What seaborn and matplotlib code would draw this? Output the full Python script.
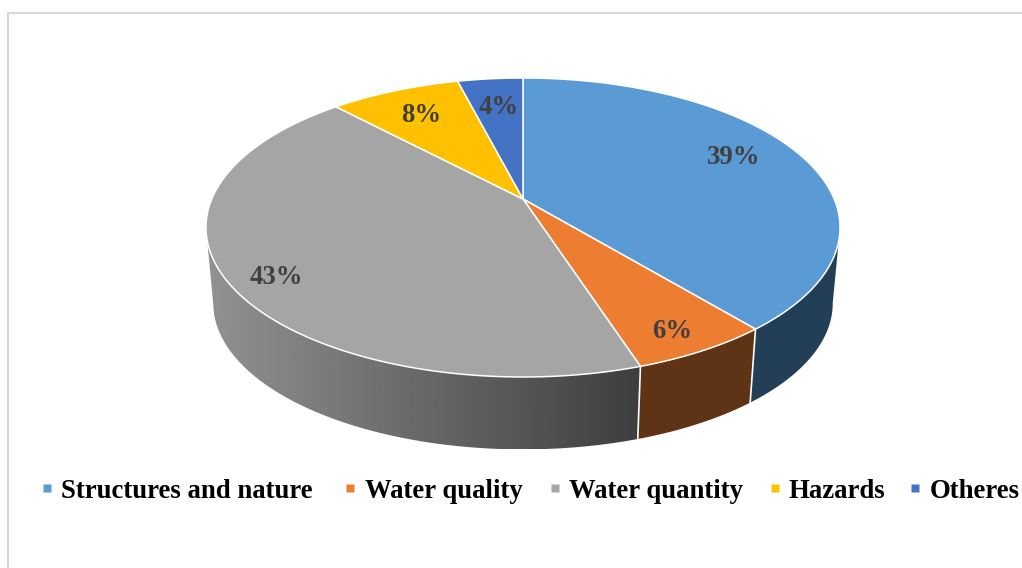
import numpy as np
import matplotlib
matplotlib.use("Agg")
import matplotlib.pyplot as plt
from matplotlib.lines import Line2D
from matplotlib.patches import PathPatch
from matplotlib.path import Path
from matplotlib.transforms import Affine2D, Transform
import seaborn as sns

# Survey shares by topic
categories = ["Structures and nature", "Water quality", "Water quantity", "Hazards", "Otheres"]
shares = [39, 6, 43, 8, 4]
share_labels = ["39%", "6%", "43%", "8%", "4%"]
top_colors = ["#5B9BD5", "#ED7D31", "#A5A5A5", "#FFC000", "#4472C4"]
wall_colors = ["#233F57", "#5F3315", "#808080", "#997300", "#264478"]

sns.set_theme(style="white")
plt.rcParams["font.family"] = ["Liberation Serif", "DejaVu Serif"]

# Geometry of the tilted disc, in figure pixels
CX, CY = 523.0, 199.0
RX, RY, TILT = 311.2, 144.07, 0.1906
DEPTH, SHRINK = 76.5, 0.977
VISIBLE_FROM, VISIBLE_TO = 101.0, 259.0
LABEL_XY = [(734, 157), (672, 332), (276, 278), (421, 115), (499, 107)]
LEGEND_COLUMN_PAD_PX = [7, 1, 2, 0, 0]


class TiltedDisc(Transform):
    """Perspective view of the unit circle, mapped to pixel coordinates."""
    input_dims = 2
    output_dims = 2
    is_separable = False
    has_inverse = False

    def transform_non_affine(self, values):
        values = np.asarray(values, dtype=float)
        x, y = values[:, 0], values[:, 1]
        w = 1 + TILT * y
        return np.column_stack([CX + RX * x / w, CY - RY * y / w])

    def transform_path_non_affine(self, path):
        scale = 3000.0
        polys = path.to_polygons(Affine2D().scale(scale), closed_only=False)
        verts = np.vstack(polys) / scale
        return Path(self.transform_non_affine(verts))


disc = TiltedDisc()


def top_rim(theta_deg):
    t = np.radians(theta_deg)
    return disc.transform_non_affine(np.column_stack([np.sin(t), np.cos(t)]))


def bottom_rim(theta_deg):
    p = top_rim(theta_deg)
    return np.column_stack([CX + SHRINK * (p[:, 0] - CX),
                            CY + DEPTH + SHRINK * (p[:, 1] - CY)])


fig = plt.figure(figsize=(10.22, 5.68), dpi=100, facecolor="white")
ax = fig.add_axes([0, 0, 1, 1])

palette = sns.color_palette(top_colors)
wedges, _ = ax.pie(shares, colors=palette, startangle=90, counterclock=False,
                   wedgeprops={"edgecolor": "white", "linewidth": 1.1})
for wedge in wedges:
    wedge.set_transform(disc + ax.transData)
    wedge.set_zorder(3)
    wedge.set_clip_on(False)

# Side wall, one piece per slice, limited to the part facing the viewer
edges = np.concatenate([[0], np.cumsum(shares)]) * 3.6
for i, (a0, a1) in enumerate(zip(edges[:-1], edges[1:])):
    lo, hi = max(a0, VISIBLE_FROM), min(a1, VISIBLE_TO)
    if hi <= lo:
        continue
    th = np.linspace(lo, hi, 200)
    outline = np.vstack([top_rim(th), bottom_rim(th[::-1])])
    if categories[i] == "Water quantity":
        # The largest slice has a horizontal light-to-dark shading
        left, right = outline[:, 0].min(), outline[:, 0].max()
        ramp = np.linspace(146, 62, 256)[None, :]
        im = ax.imshow(ramp, cmap="gray", vmin=0, vmax=255, aspect="auto",
                       extent=(left, right, outline[:, 1].max(), outline[:, 1].min()),
                       zorder=1, interpolation="bilinear")
        clip = PathPatch(Path(outline, closed=False), transform=ax.transData,
                         facecolor="none", edgecolor="none")
        ax.add_patch(clip)
        im.set_clip_path(clip)
    else:
        ax.fill(outline[:, 0], outline[:, 1], color=wall_colors[i], lw=0, zorder=1)

# White seams between the wall pieces
for a in edges[1:-1]:
    if VISIBLE_FROM < a < VISIBLE_TO:
        p, q = top_rim(np.array([a]))[0], bottom_rim(np.array([a]))[0]
        ax.plot([p[0], q[0]], [p[1], q[1]], color="white", lw=1.2, zorder=2)

# Slice value labels
for text, (lx, ly) in zip(share_labels, LABEL_XY):
    ax.text(lx, ly, text, ha="center", va="center", fontsize=19.3,
            fontweight="bold", color="#404040", zorder=4)

# Frame around the chart on the top and left sides
ax.plot([8, 8, 1022], [568, 13, 13], color="#D9D9D9", lw=1.5, zorder=0,
        solid_joinstyle="miter")

ax.set_xlim(0, 1022)
ax.set_ylim(568, 0)
ax.set_aspect("auto")
ax.axis("off")

handles = [Line2D([], [], linestyle="none", marker="s", markersize=5.8,
                  markerfacecolor=c, markeredgecolor="none") for c in palette]
legend = ax.legend(handles, categories, loc="center left",
                   bbox_to_anchor=(34 / 1022, 1 - 491 / 568), ncol=5, frameon=False,
                   prop={"size": 19.3, "weight": "bold"}, labelcolor="black",
                   handlelength=0.45, handletextpad=0.3, columnspacing=0.884,
                   borderpad=0, borderaxespad=0)

# The gaps between legend entries are not all equal
for column, pad_px in zip(legend._legend_handle_box.get_children(), LEGEND_COLUMN_PAD_PX):
    column.pad = pad_px * 0.72

fig.savefig("out.png", dpi=100, facecolor="white")
